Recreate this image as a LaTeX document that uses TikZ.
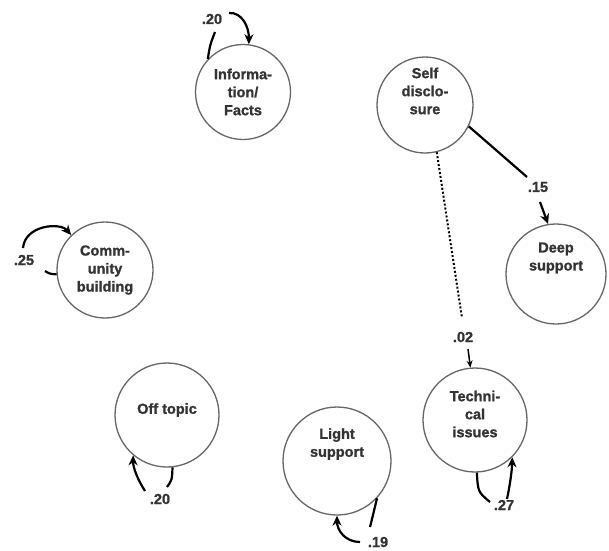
\documentclass[tikz,border=0pt]{standalone}
\usepackage{fontspec}
\setmainfont[FakeBold=1.2]{Liberation Sans}
\usetikzlibrary{arrows.meta}
\begin{document}
\begin{tikzpicture}[x=1pt,y=-1pt,
 circ/.style={circle,draw=black!60,line width=1.3pt,inner sep=0pt},
 txt/.style={align=center,font=\fontsize{14.5}{18}\selectfont\bfseries,inner sep=0pt,text=black!80},
 num/.style={font=\fontsize{14.5}{17}\selectfont\bfseries,inner sep=1pt,text=black!80},
 conn/.style={line width=2.2pt},
 arr/.style={line width=2.2pt,-{Stealth[length=10pt,width=9pt]}},
 dots/.style={line width=2pt,dotted}
]
\useasboundingbox[fill=white] (0,0) rectangle (609,550);
% circles
\node[circ,minimum size=95pt] (info) at (243,92) {};
\node[txt] at (243,92) {Informa-\\tion/\\Facts};
\node[circ,minimum size=96pt] (self) at (425,105) {};
\node[txt] at (425,91) {Self\\disclo-\\sure};
\node[circ,minimum size=100pt] (deep) at (556,274) {};
\node[txt] at (556,258) {Deep\\support};
\node[circ,minimum size=96pt] (comm) at (105,270) {};
\node[txt] at (105,270) {Comm-\\unity\\building};
\node[circ,minimum size=104pt] (tech) at (475,420) {};
\node[txt] at (475,414) {Techni-\\cal\\issues};
\node[circ,minimum size=104pt] (off) at (167,415) {};
\node[txt] at (167,410) {Off topic};
\node[circ,minimum size=108pt] (light) at (337,461) {};
\node[txt] at (337,444) {Light\\support};
% labels
\node[num] (n15) at (538,187) {.15};
\node[num] (n02) at (463,337) {.02};
\node[num] (n20a) at (212,19) {.20};
\node[num] (n25) at (24,260) {.25};
\node[num] (n20b) at (160,499) {.20};
\node[num] (n19) at (378,542) {.19};
\node[num] (n27) at (504,505) {.27};
% free ends
\coordinate (s15) at (527,177);
\coordinate (s15b) at (540,202);
\coordinate (d02) at (462,318);
\coordinate (d02b) at (468,349);
\coordinate (ia) at (215,32);
\coordinate (ib) at (229,13);
\coordinate (ca) at (23,248);
\coordinate (cb) at (45,271);
\coordinate (oa) at (145,491);
\coordinate (ob) at (167,487);
\coordinate (la) at (370,527);
\coordinate (lb) at (360,542);
\coordinate (ta) at (490,502);
\coordinate (tb) at (507,499);
% connectors
\draw[conn] (self.-26) -- (s15);
\draw[arr] (s15b) -- (deep.99);
\draw[dots] (self.-76) -- (d02);
\draw[line width=1.5pt,-{Stealth[length=7pt,width=6pt]}] (d02b) -- (tech.95);
% self loops
\draw[conn] (info.137) .. controls (210,45) .. (ia);
\draw[arr] (ib) .. controls (242,12) and (249,27) .. (info.83);
\draw[arr] (ca) .. controls (25,225) and (60,222) .. (comm.134);
\draw[conn] (cb) .. controls (50,274) .. (comm.185);
\draw[arr] (oa) .. controls (138,480) and (133,468) .. (off.230);
\draw[conn] (off.-84) .. controls (172,480) .. (ob);
\draw[conn] (light.-43) .. controls (373,515) .. (la);
\draw[arr] (lb) .. controls (345,542) and (337,530) .. (light.-90);
\draw[conn] (tech.-88) .. controls (478,492) .. (ta);
\draw[arr] (tb) .. controls (510,485) and (512,470) .. (tech.-45);
\end{tikzpicture}
\end{document}
